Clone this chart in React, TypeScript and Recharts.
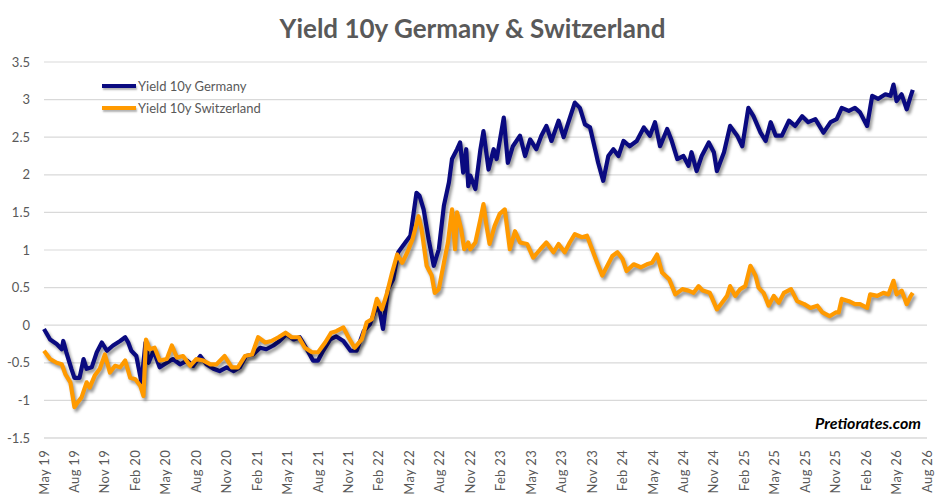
import React from 'react';
import { LineChart, Line, XAxis, YAxis, CartesianGrid } from 'recharts';

// months counted from May 2019
const germanyMonths = [
  0, 0.6, 1.25, 1.75, 1.9, 2.2, 2.7, 3.0, 3.5, 3.9, 4.2, 4.7, 5.2, 5.7, 6.2, 6.8, 7.5, 8.0, 8.3, 8.6,
  9.1, 9.6, 10.0, 10.3, 10.8, 11.4, 12.1, 12.7, 13.4, 14.1, 14.7, 15.4, 16.0, 16.7, 17.3, 18.0, 18.7,
  19.3, 19.9, 20.6, 21.3, 21.9, 22.6, 23.2, 23.9, 24.6, 25.2, 25.9, 26.5, 27.0, 27.5, 28.2, 28.8,
  29.5, 30.2, 30.8, 31.5, 32.1, 32.8, 33.1, 33.4, 33.9, 34.4, 34.9, 35.6, 36.1, 36.7, 37.0, 37.4,
  37.9, 38.4, 38.9, 39.4, 39.9, 40.2, 40.7, 41.0, 41.3, 41.6, 41.8, 42.0, 42.5, 43.0, 43.3, 43.8,
  44.3, 44.6, 45.3, 45.7, 46.2, 46.9, 47.4, 47.9, 48.5, 49.0, 49.5, 50.0, 50.7, 51.2, 51.6, 52.3,
  52.8, 53.3, 53.8, 54.3, 54.6, 55.1, 55.6, 56.1, 56.6, 57.1, 57.7, 58.4, 59.1, 59.7, 60.2, 60.7,
  61.4, 61.8, 62.4, 63.0, 63.5, 63.8, 64.3, 64.8, 65.5, 66.0, 66.3, 67.0, 67.6, 68.3, 68.8, 69.4,
  69.9, 70.6, 71.1, 71.6, 72.1, 72.7, 73.4, 74.0, 74.7, 75.3, 76.0, 76.8, 77.5, 78.1, 78.6, 79.3,
  79.9, 80.4, 81.1, 81.6, 82.2, 82.9, 83.4, 83.7, 84.0, 84.5, 85.0, 85.4, 85.6,
];
const germanyYield = [
  -0.05, -0.19, -0.25, -0.32, -0.21, -0.36, -0.58, -0.7, -0.7, -0.45, -0.58, -0.56, -0.36, -0.23,
  -0.34, -0.27, -0.21, -0.16, -0.23, -0.34, -0.41, -0.76, -0.23, -0.5, -0.34, -0.56, -0.5, -0.45,
  -0.52, -0.47, -0.54, -0.41, -0.52, -0.58, -0.61, -0.56, -0.61, -0.56, -0.41, -0.39, -0.3, -0.32,
  -0.27, -0.21, -0.12, -0.19, -0.16, -0.32, -0.47, -0.47, -0.34, -0.19, -0.15, -0.21, -0.34, -0.34,
  -0.08, 0.01, 0.26, 0.17, -0.05, 0.48, 0.61, 0.97, 1.1, 1.19, 1.76, 1.72, 1.54, 1.14, 0.79, 1.01,
  1.59, 1.9, 2.21, 2.34, 2.43, 2.03, 2.34, 1.85, 1.99, 1.81, 2.34, 2.58, 2.07, 2.34, 2.21, 2.76,
  2.16, 2.38, 2.52, 2.25, 2.47, 2.34, 2.52, 2.65, 2.45, 2.72, 2.5, 2.67, 2.96, 2.89, 2.67, 2.63,
  2.34, 2.16, 1.92, 2.25, 2.34, 2.25, 2.45, 2.38, 2.45, 2.63, 2.52, 2.7, 2.38, 2.61, 2.47, 2.21,
  2.25, 2.12, 2.3, 2.05, 2.25, 2.43, 2.3, 2.05, 2.3, 2.65, 2.52, 2.38, 2.89, 2.78, 2.56, 2.45, 2.7,
  2.52, 2.52, 2.72, 2.65, 2.78, 2.7, 2.74, 2.56, 2.7, 2.74, 2.89, 2.85, 2.89, 2.83, 2.65, 3.05,
  3.01, 3.07, 3.05, 3.2, 2.98, 3.07, 2.87, 3.05, 3.13,
];

const swissMonths = [
  0, 0.6, 1.25, 1.75, 2.1, 2.6, 3.0, 3.3, 3.7, 4.2, 4.5, 5.0, 5.5, 6.0, 6.5, 7.0, 7.5, 8.0, 8.5,
  9.0, 9.5, 9.8, 10.05, 10.4, 10.9, 11.4, 12.1, 12.6, 13.1, 13.7, 14.4, 15.0, 15.7, 16.4, 17.0,
  17.8, 18.5, 19.1, 19.8, 20.5, 21.1, 21.8, 22.4, 23.1, 23.8, 24.4, 25.1, 25.7, 26.4, 27.0, 27.7,
  28.3, 28.8, 29.5, 30.0, 30.6, 31.3, 31.8, 32.3, 32.8, 33.3, 33.8, 34.3, 34.8, 35.3, 35.8, 36.3,
  36.9, 37.2, 37.7, 38.2, 38.5, 38.9, 39.4, 39.8, 40.2, 40.5, 40.7, 41.1, 41.4, 41.8, 42.0, 42.5,
  43.0, 43.3, 43.6, 43.9, 44.4, 44.9, 45.4, 45.9, 46.4, 46.9, 47.6, 48.2, 48.9, 49.5, 50.2, 50.7,
  51.3, 51.8, 52.3, 53.0, 53.5, 54.0, 54.5, 55.0, 55.5, 56.0, 56.5, 57.0, 57.4, 58.1, 58.8, 59.4,
  59.9, 60.4, 60.9, 61.6, 62.2, 62.9, 63.5, 64.0, 64.5, 64.9, 65.6, 66.3, 66.8, 67.3, 67.6, 68.1,
  68.6, 69.1, 69.6, 70.1, 70.4, 70.9, 71.4, 71.9, 72.4, 72.9, 73.6, 74.2, 74.9, 75.5, 76.2, 76.7,
  77.4, 78.0, 78.3, 78.6, 79.3, 79.9, 80.4, 81.1, 81.4, 82.1, 82.7, 83.2, 83.7, 84.0, 84.5, 85.0,
  85.4, 85.6,
];
const swissYield = [
  -0.34, -0.45, -0.5, -0.52, -0.65, -0.76, -1.09, -1.03, -0.96, -0.76, -0.83, -0.67, -0.58, -0.39,
  -0.63, -0.54, -0.56, -0.47, -0.7, -0.72, -0.81, -0.94, -0.19, -0.32, -0.3, -0.47, -0.45, -0.27,
  -0.43, -0.41, -0.54, -0.45, -0.47, -0.52, -0.52, -0.41, -0.56, -0.56, -0.41, -0.39, -0.16, -0.23,
  -0.21, -0.16, -0.1, -0.16, -0.16, -0.3, -0.36, -0.36, -0.23, -0.1, -0.08, -0.03, -0.16, -0.3,
  -0.19, 0.04, 0.08, 0.35, 0.21, 0.43, 0.7, 0.94, 0.83, 0.97, 1.14, 1.45, 1.28, 0.79, 0.66, 0.43,
  0.48, 0.83, 1.1, 1.54, 1.01, 1.5, 1.28, 1.01, 1.1, 1.01, 1.1, 1.41, 1.61, 1.32, 1.08, 1.32, 1.48,
  1.54, 1.01, 1.25, 1.1, 1.08, 0.9, 1.01, 1.1, 0.97, 1.08, 0.97, 1.1, 1.21, 1.17, 1.19, 1.01, 0.83,
  0.66, 0.79, 0.92, 0.97, 0.88, 0.72, 0.81, 0.77, 0.81, 0.83, 0.94, 0.7, 0.61, 0.41, 0.48, 0.46,
  0.43, 0.52, 0.46, 0.43, 0.21, 0.3, 0.39, 0.52, 0.39, 0.48, 0.52, 0.79, 0.66, 0.5, 0.43, 0.26,
  0.39, 0.3, 0.43, 0.48, 0.32, 0.28, 0.23, 0.26, 0.17, 0.12, 0.17, 0.17, 0.35, 0.32, 0.28, 0.28,
  0.23, 0.41, 0.39, 0.43, 0.41, 0.59, 0.41, 0.46, 0.28, 0.39, 0.43,
];

const tickLabels = [
  'May 19', 'Aug 19', 'Nov 19', 'Feb 20', 'May 20', 'Aug 20', 'Nov 20', 'Feb 21', 'May 21', 'Aug 21',
  'Nov 21', 'Feb 22', 'May 22', 'Aug 22', 'Nov 22', 'Feb 23', 'May 23', 'Aug 23', 'Nov 23', 'Feb 24',
  'May 24', 'Aug 24', 'Nov 24', 'Feb 25', 'May 25', 'Aug 25', 'Nov 25', 'Feb 26', 'May 26', 'Aug 26',
];
const yTicks = [-1.5, -1, -0.5, 0, 0.5, 1, 1.5, 2, 2.5, 3, 3.5];

const germanyData = germanyMonths.map((m, i) => ({ m, v: germanyYield[i] }));
const swissData = swissMonths.map((m, i) => ({ m, v: swissYield[i] }));
const xTicks = tickLabels.map((_, i) => i * 3);

const NAVY = '#0a0a80';
const ORANGE = '#ff9a00';
const FONT = 'Lato, "Open Sans", sans-serif';

const DateTick = (props: any) => {
  const { x, y, payload } = props;
  return (
    <text
      transform={`translate(${x},${y + 4}) rotate(-90)`}
      textAnchor="end"
      dy="0.35em"
      fontSize={13}
      letterSpacing={0.3}
      fill="#595959"
      fontFamily={FONT}
    >
      {tickLabels[payload.value / 3]}
    </text>
  );
};

const legendItems = [
  { name: 'Yield 10y Germany', color: NAVY },
  { name: 'Yield 10y Switzerland', color: ORANGE },
];

export default function App() {
  return (
    <div style={{ position: 'relative', width: 945, height: 495, background: '#fff' }}>
      <style>{`body{margin:0} .recharts-line-curve{filter:drop-shadow(2px 3px 1.5px rgba(0,0,0,0.4));}`}</style>
      <div
        style={{
          position: 'absolute',
          top: 12,
          left: 0,
          width: 945,
          textAlign: 'center',
          fontFamily: FONT,
          fontWeight: 700,
          fontSize: 26,
          color: '#595959',
        }}
      >
        Yield 10y Germany &amp; Switzerland
      </div>
      <LineChart width={945} height={495} margin={{ top: 62, right: 18, bottom: 0, left: 0 }}>
        <CartesianGrid horizontal vertical={false} stroke="#d9d9d9" strokeWidth={1.2} />
        <XAxis
          dataKey="m"
          type="number"
          domain={[0, 87]}
          ticks={xTicks}
          interval={0}
          axisLine={{ stroke: '#d9d9d9' }}
          tickLine={false}
          height={57}
          tick={<DateTick />}
          allowDuplicatedCategory={false}
        />
        <YAxis
          type="number"
          domain={[-1.5, 3.5]}
          ticks={yTicks}
          interval={0}
          width={44}
          axisLine={false}
          tickLine={false}
          tickMargin={8}
          tick={{ fontSize: 13, fill: '#595959', fontFamily: FONT }}
        />
        <Line
          data={germanyData}
          dataKey="v"
          name="Yield 10y Germany"
          stroke={NAVY}
          strokeWidth={4.2}
          strokeLinejoin="round"
          dot={false}
          type="linear"
          isAnimationActive={false}
        />
        <Line
          data={swissData}
          dataKey="v"
          name="Yield 10y Switzerland"
          stroke={ORANGE}
          strokeWidth={4.2}
          strokeLinejoin="round"
          dot={false}
          type="linear"
          isAnimationActive={false}
        />
      </LineChart>
      <div
        style={{
          position: 'absolute',
          top: 75,
          left: 102,
          fontFamily: FONT,
          fontSize: 13,
          color: '#595959',
          lineHeight: '22px',
        }}
      >
        {legendItems.map((it) => (
          <div key={it.name} style={{ display: 'flex', alignItems: 'center' }}>
            <span
              style={{
                display: 'inline-block',
                width: 34,
                height: 4,
                background: it.color,
                marginRight: 2,
                boxShadow: '1px 2px 2px rgba(0,0,0,0.3)',
              }}
            />
            {it.name}
          </div>
        ))}
      </div>
      <div
        style={{
          position: 'absolute',
          top: 413,
          right: 24,
          fontFamily: FONT,
          fontWeight: 700,
          fontStyle: 'italic',
          fontSize: 16,
          color: '#000',
        }}
      >
        Pretiorates.com
      </div>
    </div>
  );
}
